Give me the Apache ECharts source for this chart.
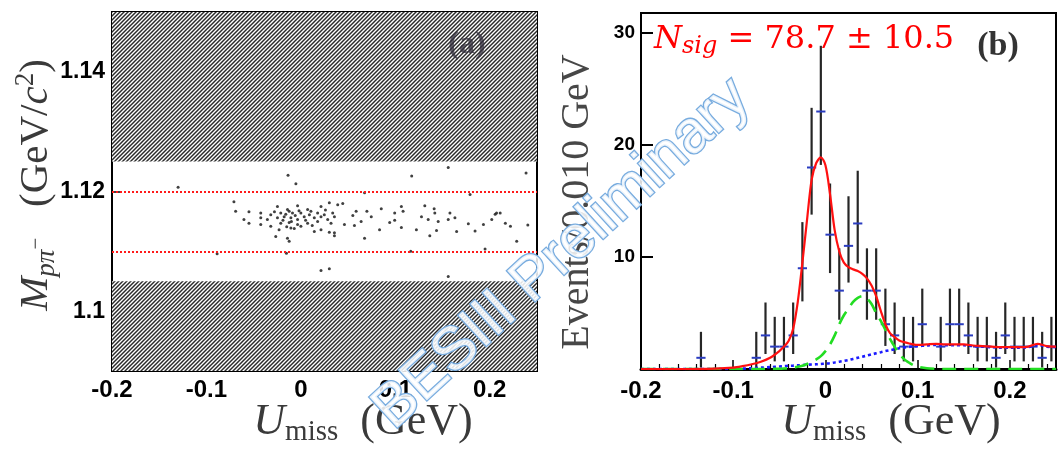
<!DOCTYPE html>
<html>
<head>
<meta charset="utf-8">
<script src="https://cdn.jsdelivr.net/npm/echarts@6/dist/echarts.min.js"></script>
<style>
  html, body { margin: 0; padding: 0; background: #fff; }
  #chart { width: 1059px; height: 454px; }
</style>
</head>
<body>
<div id="chart"></div>
<script>
// ---- Panel (a): M(p pi-) versus U_miss for selected candidates ----
const scatterU = [
  -0.0053, 0.0674, 0.1791, -0.0709, -0.0248, -0.0142, -0.0035, 0.0071, 0.0213, 0.0301,
  0.0390, 0.0443, -0.0691, -0.0550, -0.0425, -0.0319, -0.0213, -0.0124, -0.0089, 0.0000,
  0.0106, 0.0177, 0.0248, 0.0337, 0.0585, 0.0699, 0.0851, 0.1064, 0.1082, 0.1312,
  0.1411, 0.1418, 0.1578, -0.0603, -0.0425, -0.0355, -0.0248, -0.0177, -0.0106, -0.0035,
  0.0035, 0.0142, 0.0213, 0.0284, 0.0355, 0.0550, 0.0745, 0.0993, 0.1277, 0.1560,
  0.2057, -0.0550, -0.0425, -0.0319, -0.0213, -0.0124, -0.0035, 0.0071, 0.0177, 0.0319,
  0.0461, 0.0567, 0.0638, 0.0833, 0.0940, 0.0993, 0.1064, 0.1348, 0.1454, 0.1631,
  0.1773, 0.1933, 0.2021, 0.2110, -0.0231, -0.0106, 0.0000, 0.0142, 0.0213, 0.0301,
  0.0355, 0.1223, 0.1436, 0.1649, 0.1844, -0.0266, -0.0142, -0.0124, 0.0674, 0.1365,
  0.0355, -0.1300, -0.0887, -0.0153, 0.1163, 0.1950, 0.0213, 0.0301, 0.1560, -0.0136,
  0.1173, 0.1560, 0.2384, 0.2285, 0.2219, 0.2403, 0.2072, 0.2165, -0.0160, -0.0060,
  -0.0100, 0.0050, -0.0190, 0.0090, -0.0020, -0.0150, 0.0120, -0.0280, 0.0260, -0.0070
];
const scatterM = [
  1.1213, 1.1198, 1.1195, 1.1183, 1.1175, 1.1170, 1.1176, 1.1170, 1.1175, 1.1181,
  1.1178, 1.1180, 1.1167, 1.1166, 1.1164, 1.1161, 1.1164, 1.1167, 1.1164, 1.1164,
  1.1167, 1.1164, 1.1161, 1.1164, 1.1167, 1.1167, 1.1171, 1.1175, 1.1167, 1.1176,
  1.1171, 1.1164, 1.1164, 1.1153, 1.1156, 1.1153, 1.1156, 1.1158, 1.1156, 1.1153,
  1.1158, 1.1156, 1.1158, 1.1153, 1.1158, 1.1160, 1.1158, 1.1164, 1.1158, 1.1153,
  1.1162, 1.1147, 1.1145, 1.1142, 1.1147, 1.1148, 1.1145, 1.1147, 1.1150, 1.1147,
  1.1145, 1.1143, 1.1150, 1.1136, 1.1148, 1.1152, 1.1140, 1.1153, 1.1150, 1.1156,
  1.1146, 1.1145, 1.1153, 1.1164, 1.1136, 1.1139, 1.1142, 1.1133, 1.1136, 1.1132,
  1.1131, 1.1136, 1.1135, 1.1133, 1.1134, 1.1125, 1.1122, 1.1117, 1.1122, 1.1126,
  1.1126, 1.1207, 1.1096, 1.1097, 1.1100, 1.1104, 1.1068, 1.1071, 1.1058, 1.1227,
  1.1226, 1.1240, 1.1231, 1.1117, 1.1142, 1.1144, 1.1164, 1.1147, 1.1162, 1.1160,
  1.1150, 1.1152, 1.1152, 1.1161, 1.1168, 1.1141, 1.1143, 1.1166, 1.1169, 1.1138
];
// Vetoed mass regions (hatched) and the signal mass window (red dotted lines)
const vetoLow = [1.09, 1.105];
const vetoHigh = [1.125, 1.15];
const massWindow = [1.110, 1.121];

// ---- Panel (b): U_miss distribution, 0.010 GeV bins ----
const binWidth = 0.01;
const binU = [
  -0.135, -0.075, -0.065, -0.055, -0.045, -0.035, -0.025, -0.015, -0.005, 0.005,
  0.015, 0.025, 0.035, 0.045, 0.055, 0.065, 0.075, 0.085, 0.095, 0.105,
  0.125, 0.135, 0.145, 0.155, 0.165, 0.175, 0.185, 0.195, 0.205, 0.215,
  0.225, 0.235, 0.245
];
const binCount = [
  1, 1, 3, 2, 2, 3, 9, 18, 23, 12,
  7, 11, 13, 7, 7, 4, 3, 2, 2, 4,
  2, 4, 4, 3, 2, 2, 1, 3, 2, 2,
  2, 1, 2
];
const errLow = [
  0.13, 0.13, 1.34, 0.68, 0.68, 1.34, 6.04, 13.79, 18.23, 8.57,
  4.40, 7.72, 9.43, 4.40, 4.40, 2.06, 1.34, 0.68, 0.68, 2.06,
  0.68, 2.06, 2.06, 1.34, 0.68, 0.68, 0.13, 1.34, 0.68, 0.68,
  0.68, 0.13, 0.68
];
const errHigh = [
  3.32, 3.32, 5.94, 4.66, 4.66, 5.94, 13.12, 23.33, 28.87, 16.57,
  10.78, 15.43, 17.71, 10.78, 10.78, 7.18, 5.94, 4.66, 4.66, 7.18,
  4.66, 7.18, 7.18, 5.94, 4.66, 4.66, 3.32, 5.94, 4.66, 4.66,
  4.66, 3.32, 4.66
];

// Fit components sampled along U_miss
const fitU = [
  -0.2, -0.15, -0.12, -0.1, -0.09, -0.08, -0.07, -0.06,
  -0.05, -0.045, -0.04, -0.035, -0.03, -0.025, -0.02, -0.015, -0.01, -0.005,
  0, 0.005, 0.01, 0.015, 0.02, 0.025, 0.03, 0.035, 0.04, 0.045,
  0.05, 0.055, 0.06, 0.065, 0.07, 0.075, 0.08, 0.085, 0.09, 0.095,
  0.1, 0.11, 0.12, 0.13, 0.14, 0.15, 0.16, 0.17, 0.18, 0.19, 0.2, 0.21, 0.22, 0.23, 0.24, 0.25
];
const fitTotal = [
  0, 0, 0.03, 0.12, 0.25, 0.42, 0.65, 1.0,
  1.6, 2.0, 2.5, 3.6, 6.0, 9.5, 13.3, 16.9, 18.4, 18.9,
  18.2, 15.6, 12.4, 10.5, 9.5, 9.1, 8.9, 8.75, 8.5, 8.1,
  7.45, 6.5, 5.2, 4.0, 3.2, 2.85, 2.55, 2.4, 2.3, 2.2,
  2.15, 2.2, 2.25, 2.2, 2.2, 2.2, 2.1, 2.05, 2.0, 1.95, 1.95, 1.95, 2.0, 2.25, 2.05, 2.0
];
const fitPeak2 = [
  0, 0, 0, 0, 0, 0, 0, 0.01,
  0.02, 0.04, 0.07, 0.12, 0.2, 0.3, 0.45, 0.65, 0.85, 1.15,
  1.6, 2.2, 3.0, 4.0, 4.8, 5.4, 6.0, 6.35, 6.5, 6.3,
  5.8, 5.0, 4.3, 3.5, 2.7, 2.0, 1.4, 0.9, 0.6, 0.35,
  0.2, 0.06, 0.01, 0, 0, 0, 0, 0, 0, 0, 0, 0, 0, 0, 0, 0
];
const fitBkg = [
  0, 0, 0, 0, 0.03, 0.07, 0.12, 0.17,
  0.22, 0.25, 0.28, 0.3, 0.33, 0.35, 0.38, 0.4, 0.42, 0.45,
  0.48, 0.52, 0.58, 0.65, 0.72, 0.8, 0.9, 1.0, 1.1, 1.2,
  1.3, 1.4, 1.5, 1.6, 1.68, 1.76, 1.85, 1.92, 1.97, 2.02,
  2.05, 2.1, 2.15, 2.12, 2.12, 2.12, 2.05, 2.0, 1.95, 1.9, 1.9, 1.9, 1.95, 2.15, 2.0, 1.95
];

const uTickLabels = [-0.2, -0.1, 0, 0.1, 0.2];
const massTickLabels = [1.1, 1.12, 1.14];
const countTickLabels = [10, 20, 30];
const nsigText = '78.7 \u00b1 10.5';

// ---- helpers ----
function hatchPattern() {
  const n = 4;
  const c = document.createElement('canvas');
  c.width = n; c.height = n;
  const g = c.getContext('2d');
  g.fillStyle = '#ffffff';
  g.fillRect(0, 0, n, n);
  g.strokeStyle = '#2a2a2a';
  g.lineWidth = 1.45;
  g.beginPath();
  g.moveTo(-1, n + 1); g.lineTo(n + 1, -1);
  g.moveTo(-1, 1); g.lineTo(1, -1);
  g.moveTo(n - 1, n + 1); g.lineTo(n + 1, n - 1);
  g.stroke();
  return c;
}
function labelFilter(list, digits) {
  return function (v) {
    for (const t of list) {
      if (Math.abs(t - v) < 1e-6) return String(+t.toFixed(digits));
    }
    return '';
  };
}
const tickFont = { fontFamily: 'Liberation Sans', fontWeight: 'bold', color: '#000' };
const serif = 'Liberation Serif';
const titleColor = '#3a3a3a';

const scatterData = scatterU.map((u, i) => [u, scatterM[i]]);
const histData = binU.map((u, i) => [u, binCount[i], errLow[i], errHigh[i]]);
const curve = arr => fitU.map((u, i) => [u, arr[i]]);

const uTitleRich = {
  i: { fontFamily: serif, fontStyle: 'italic', fontSize: 44, fill: titleColor, lineHeight: 50 },
  s: { fontFamily: serif, fontSize: 29, fill: titleColor, lineHeight: 24, verticalAlign: 'bottom' },
  n: { fontFamily: serif, fontSize: 44, fill: titleColor, lineHeight: 50 }
};

const chart = echarts.init(document.getElementById('chart'), null, { renderer: 'canvas' });

chart.setOption({
  animation: false,
  backgroundColor: '#fff',
  grid: [
    { left: 112, top: 12, width: 425, height: 359, show: true, borderColor: '#000', borderWidth: 2, backgroundColor: 'transparent' },
    { left: 641, top: 13, width: 423, height: 356, show: true, borderColor: '#000', borderWidth: 2, backgroundColor: 'transparent' }
  ],
  xAxis: [
    {
      type: 'value', gridIndex: 0, min: -0.2, max: 0.25, interval: 0.1,
      axisLine: { show: true, onZero: false, lineStyle: { color: '#000', width: 2 } },
      axisTick: { show: true, inside: true, length: 8, lineStyle: { color: '#000', width: 1.5 } },
      splitLine: { show: false },
      axisLabel: Object.assign({ fontSize: 24, margin: 7, formatter: labelFilter(uTickLabels, 1) }, tickFont)
    },
    {
      type: 'value', gridIndex: 1, min: -0.2, max: 0.25, interval: 0.1,
      axisLine: { show: true, onZero: false, lineStyle: { color: '#000', width: 3 } },
      axisTick: { show: true, inside: true, length: 9, lineStyle: { color: '#000', width: 1.5 } },
      minorTick: { show: true, splitNumber: 5, length: 5, lineStyle: { color: '#000', width: 1.2 } },
      splitLine: { show: false },
      axisLabel: Object.assign({ fontSize: 24, margin: 10, formatter: labelFilter(uTickLabels, 1) }, tickFont)
    }
  ],
  yAxis: [
    {
      type: 'value', gridIndex: 0, min: 1.09, max: 1.15, splitNumber: 3,
      axisLine: { show: true, onZero: false, lineStyle: { color: '#000', width: 2 } },
      axisTick: { show: true, inside: true, length: 10, lineStyle: { color: '#000', width: 1.5 } },
      splitLine: { show: false },
      axisLabel: Object.assign({ fontSize: 23, margin: 7, formatter: labelFilter(massTickLabels, 2) }, tickFont)
    },
    {
      type: 'value', gridIndex: 1, min: 0, max: 31.8, interval: 10,
      axisLine: { show: true, onZero: false, lineStyle: { color: '#000', width: 2 } },
      axisTick: { show: true, inside: true, length: 12, lineStyle: { color: '#000', width: 2 } },
      splitLine: { show: false },
      axisLabel: Object.assign({ fontSize: 19, margin: 6, formatter: labelFilter(countTickLabels, 0) }, tickFont)
    }
  ],
  series: [
    {
      type: 'scatter', xAxisIndex: 0, yAxisIndex: 0,
      data: scatterData, symbolSize: 3,
      itemStyle: { color: '#1e1e1e', opacity: 0.85 },
      z: 3,
      markArea: {
        silent: true,
        itemStyle: { color: { image: hatchPattern(), repeat: 'repeat' }, opacity: 1 },
        data: [
          [{ xAxis: -0.2, yAxis: vetoLow[0] }, { xAxis: 0.25, yAxis: vetoLow[1] }],
          [{ xAxis: -0.2, yAxis: vetoHigh[0] }, { xAxis: 0.25, yAxis: vetoHigh[1] }]
        ]
      },
      markLine: {
        silent: true, symbol: 'none', label: { show: false },
        lineStyle: { color: '#ff1a1a', width: 2, type: [2, 2] },
        data: massWindow.map(m => ({ yAxis: m }))
      }
    },
    {
      type: 'custom', xAxisIndex: 1, yAxisIndex: 1, data: histData, z: 3,
      renderItem: function (params, api) {
        const u = api.value(0), n = api.value(1), lo = api.value(2), hi = api.value(3);
        const a = api.coord([u, lo]), b = api.coord([u, hi]);
        const l = api.coord([u - binWidth / 2, n]), r = api.coord([u + binWidth / 2, n]);
        return {
          type: 'group',
          children: [
            { type: 'line', shape: { x1: a[0], y1: a[1], x2: b[0], y2: b[1] }, style: { stroke: '#262626', lineWidth: 2.2 } },
            { type: 'line', shape: { x1: l[0], y1: l[1], x2: r[0], y2: r[1] }, style: { stroke: '#2a3cc0', lineWidth: 2 } }
          ]
        };
      }
    },
    {
      type: 'line', xAxisIndex: 1, yAxisIndex: 1, data: curve(fitBkg), showSymbol: false, smooth: 0.3, z: 4,
      lineStyle: { color: '#1a1aff', width: 2.6, type: [3, 3] }
    },
    {
      type: 'line', xAxisIndex: 1, yAxisIndex: 1, data: curve(fitPeak2), showSymbol: false, smooth: 0.3, z: 5,
      lineStyle: { color: '#22dd22', width: 2.6, type: [14, 8] }
    },
    {
      type: 'line', xAxisIndex: 1, yAxisIndex: 1, data: curve(fitTotal), showSymbol: false, smooth: 0.3, z: 6,
      lineStyle: { color: '#ff1010', width: 2.2 }
    }
  ],
  graphic: [
    // panel tags
    { type: 'text', x: 467, y: 45, z: 10, style: { text: '(a)', x: 0, y: 0, align: 'center', verticalAlign: 'middle', textAlign: 'center', textVerticalAlign: 'middle', font: 'bold 32px "Liberation Serif"', fill: 'rgba(50,45,60,0.75)' } },
    { type: 'text', x: 998, y: 46, z: 10, style: { text: '(b)', x: 0, y: 0, align: 'center', verticalAlign: 'middle', textAlign: 'center', textVerticalAlign: 'middle', font: 'bold 34px "Liberation Serif"', fill: '#333' } },
    // fitted signal yield
    {
      type: 'text', x: 654, y: 40, z: 10,
      style: {
        x: 0, y: 0, align: 'left', verticalAlign: 'middle', textAlign: 'left', textVerticalAlign: 'middle',
        text: '{i|N}{s|sig}{n| = ' + nsigText + '}',
        rich: {
          i: { fontFamily: 'DejaVu Serif', fontStyle: 'italic', fontSize: 32, fill: '#ff0000', lineHeight: 38 },
          s: { fontFamily: 'DejaVu Serif', fontStyle: 'italic', fontSize: 24, fill: '#ff0000', lineHeight: 22, verticalAlign: 'bottom' },
          n: { fontFamily: 'DejaVu Serif', fontSize: 32, fill: '#ff0000', lineHeight: 38 }
        }
      }
    },
    // x titles
    {
      type: 'text', x: 363, y: 422, z: 10,
      style: {
        x: 0, y: 0, align: 'center', verticalAlign: 'middle', textAlign: 'center', textVerticalAlign: 'middle',
        text: '{i|U}{s|miss}{n|  (GeV)}', rich: uTitleRich
      }
    },
    {
      type: 'text', x: 891, y: 422, z: 10,
      style: {
        x: 0, y: 0, align: 'center', verticalAlign: 'middle', textAlign: 'center', textVerticalAlign: 'middle',
        text: '{i|U}{s|miss}{n|  (GeV)}', rich: uTitleRich
      }
    },
    // y titles
    {
      type: 'text', x: 36, y: 185, rotation: Math.PI / 2, z: 10,
      style: {
        x: 0, y: 0, align: 'center', verticalAlign: 'middle', textAlign: 'center', textVerticalAlign: 'middle',
        text: '{i|M}{s|p\u03c0}{m|\u2212}{n|   (GeV/}{i|c}{p|2}{n|)}',
        rich: {
          i: { fontFamily: serif, fontStyle: 'italic', fontSize: 41, fill: titleColor, lineHeight: 48 },
          s: { fontFamily: serif, fontStyle: 'italic', fontSize: 27, fill: titleColor, lineHeight: 22, verticalAlign: 'bottom' },
          m: { fontFamily: serif, fontSize: 21, fill: titleColor, lineHeight: 48 },
          p: { fontFamily: serif, fontSize: 27, fill: titleColor, lineHeight: 27, verticalAlign: 'top' },
          n: { fontFamily: serif, fontSize: 41, fill: titleColor, lineHeight: 48 }
        }
      }
    },
    {
      type: 'text', x: 577, y: 202, rotation: Math.PI / 2, z: 10,
      style: {
        x: 0, y: 0, align: 'center', verticalAlign: 'middle', textAlign: 'center', textVerticalAlign: 'middle',
        text: 'Events/0.010 GeV',
        font: '40px "Liberation Serif"', fill: '#474747'
      }
    },
    // watermark
    {
      type: 'text', x: 562, y: 254, rotation: 42.5 * Math.PI / 180, z: 20,
      style: {
        x: 0, y: 0, align: 'center', verticalAlign: 'middle', textAlign: 'center', textVerticalAlign: 'middle',
        text: 'BESIII Preliminary',
        font: '60px "Liberation Sans"',
        fill: 'rgba(255,255,255,0.85)', stroke: '#78acdf', lineWidth: 2.6,
        shadowBlur: 4, shadowColor: 'rgba(90,140,200,0.45)'
      }
    }
  ]
});
</script>
</body>
</html>
